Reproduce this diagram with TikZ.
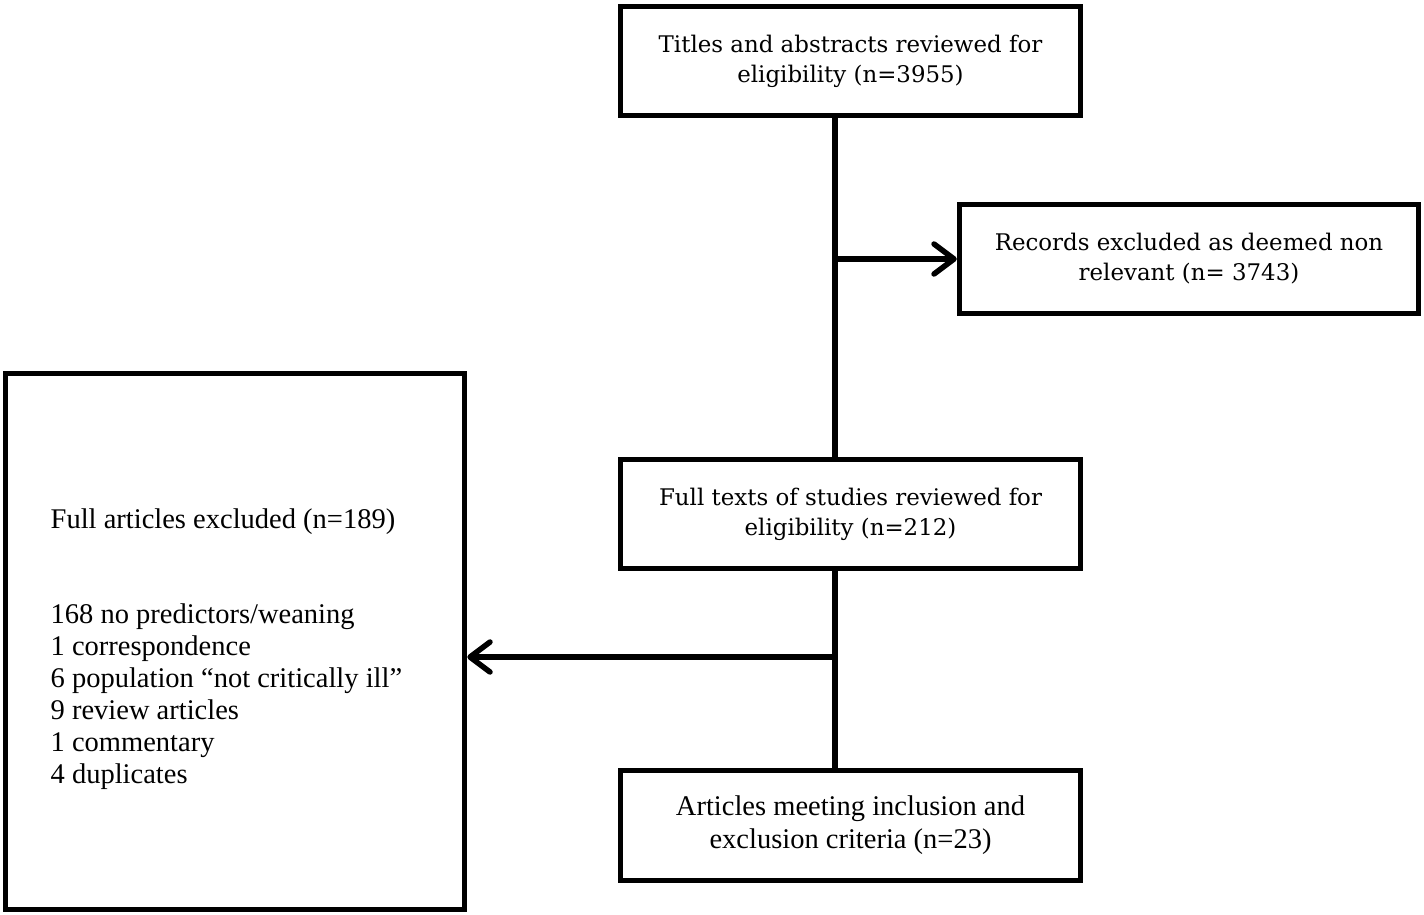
\documentclass[tikz,border=0pt]{standalone}
\usepackage{fontspec}
\setmainfont{Liberation Serif}
\newfontfamily\slabfont{DejaVu Serif}
\usetikzlibrary{arrows.meta}
\begin{document}
\begin{tikzpicture}[x=1pt,y=-1pt,
  boxstyle/.style={draw=black,line width=5.5pt,fill=white,inner sep=0pt,align=center},
  topbox/.style={boxstyle,minimum width=460pt,minimum height=109pt,font=\slabfont\fontsize{22.9}{30}\selectfont},
  lowbox/.style={boxstyle,minimum width=460pt,minimum height=110pt,font=\fontsize{28.5}{33}\selectfont},
  conn/.style={line width=5.5pt,draw=black},
  arr/.style={conn,-{Straight Barb[length=20pt,width=30pt,line cap=round,round]}}]
\useasboundingbox (0,0) rectangle (1424,915);
\node[topbox] (titles) at (850.5,61) {Titles and abstracts reviewed for\\eligibility (n=3955)};
\node[topbox,minimum width=459pt] (records) at (1189,259) {Records excluded as deemed non\\relevant (n= 3743)};
\node[topbox] (full) at (850.5,514) {Full texts of studies reviewed for\\eligibility (n=212)};
\node[lowbox] (incl) at (850.5,825.5) {Articles meeting inclusion and\\exclusion criteria (n=23)};
\node[boxstyle,minimum width=459pt,minimum height=536pt] (excl) at (235,641.5) {};
\node[inner sep=0pt,anchor=west,align=left,font=\fontsize{28.5}{32}\selectfont] (excltext) at (50.5,649.5)
 {Full articles excluded (n=189)\\[63pt]168 no predictors/weaning\\1 correspondence\\6 population “not critically ill”\\9 review articles\\1 commentary\\4 duplicates};
\coordinate (s1) at (835,259);
\coordinate (s2) at (835,657);
\draw[conn] (titles.south -| s1) -- (full.north -| s1);
\draw[arr] (s1) -- (records.west);
\draw[conn] (full.south -| s2) -- (incl.north -| s2);
\draw[arr] (s2) -- (excl.east |- s2);
\end{tikzpicture}
\end{document}
